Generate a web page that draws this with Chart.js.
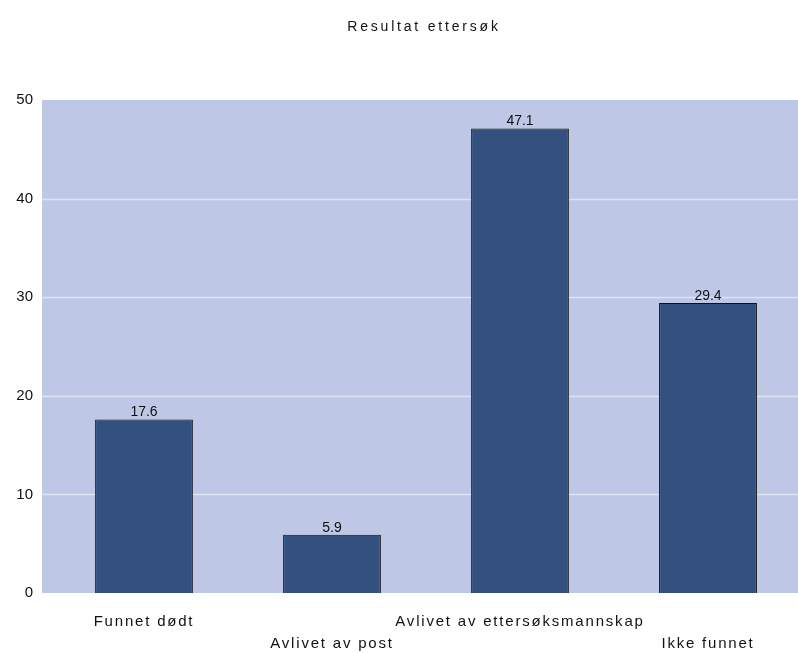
<!DOCTYPE html>
<html>
<head>
<meta charset="utf-8">
<script src="https://cdn.jsdelivr.net/npm/chart.js@4/dist/chart.umd.min.js"></script>
<style>
  html, body { margin: 0; padding: 0; background: #ffffff; overflow: hidden; }
  #wrap { width: 802px; height: 653px; }
</style>
</head>
<body>
<div id="wrap"><canvas id="c"></canvas></div>
<script>
const chartTitle = 'Resultat ettersøk';
const categories = ['Funnet dødt', 'Avlivet av post', 'Avlivet av ettersøksmannskap', 'Ikke funnet'];
const percentValues = [17.6, 5.9, 47.1, 29.4];
const yTicks = [0, 10, 20, 30, 40, 50];

const FONT = '"Liberation Sans", Arial, sans-serif';

// Alternate labels between the first and second line so long names do not collide
const staggeredLabels = categories.map((name, i) => (i % 2 === 0 ? [name, ''] : ['', name]));

// Plot background, grid lines, title and value labels
const decorPlugin = {
  id: 'decor',
  beforeDraw(chart) {
    const { ctx, chartArea, scales } = chart;
    const left = chartArea.left - 8;
    ctx.save();
    ctx.fillStyle = '#bec8e6';
    ctx.fillRect(left, chartArea.top, chart.width - left, chartArea.bottom - chartArea.top);
    ctx.strokeStyle = '#dde2f2';
    ctx.lineWidth = 1.5;
    yTicks.forEach(v => {
      if (v === 0 || v === 50) return;
      const y = Math.round(scales.y.getPixelForValue(v)) + 0.5;
      ctx.beginPath();
      ctx.moveTo(left, y);
      ctx.lineTo(chart.width, y);
      ctx.stroke();
    });
    ctx.fillStyle = '#111111';
    ctx.font = '14px ' + FONT;
    ctx.letterSpacing = '2.8px';
    ctx.textAlign = 'center';
    ctx.textBaseline = 'middle';
    ctx.fillText(chartTitle, (left + chart.width) / 2 + 2, 27);
    ctx.restore();
    // spaced lettering for the category labels
    ctx.letterSpacing = '1.8px';
  },
  beforeDatasetsDraw(chart) {
    chart.ctx.letterSpacing = '0px';
  },
  afterDatasetsDraw(chart) {
    const { ctx } = chart;
    const meta = chart.getDatasetMeta(0);
    ctx.save();
    ctx.fillStyle = '#111111';
    ctx.font = '14px ' + FONT;
    ctx.textAlign = 'center';
    ctx.textBaseline = 'bottom';
    meta.data.forEach((bar, i) => {
      ctx.fillText(percentValues[i].toFixed(1), bar.x, bar.y);
    });
    ctx.restore();
  }
};

new Chart(document.getElementById('c'), {
  type: 'bar',
  data: {
    labels: staggeredLabels,
    datasets: [{
      data: percentValues,
      backgroundColor: '#33507f',
      borderColor: '#111111',
      borderWidth: 1,
      barPercentage: 0.52,
      categoryPercentage: 1.0
    }]
  },
  options: {
    responsive: true,
    maintainAspectRatio: false,
    animation: false,
    devicePixelRatio: 1,
    layout: { padding: { top: 100, left: 0, right: 0, bottom: 0 } },
    plugins: {
      legend: { display: false },
      title: { display: false },
      tooltip: { enabled: false }
    },
    scales: {
      x: {
        grid: { display: false },
        border: { display: false },
        ticks: {
          autoSkip: false,
          maxRotation: 0,
          minRotation: 0,
          padding: 10,
          color: '#111111',
          font: { family: FONT, size: 15, lineHeight: 1.47 }
        },
        afterFit(scale) { scale.height = 60; }
      },
      y: {
        min: 0,
        max: 50,
        grid: { display: false },
        border: { display: false },
        afterBuildTicks(scale) { scale.ticks = yTicks.map(v => ({ value: v })); },
        ticks: {
          z: 1,
          padding: 9,
          color: '#111111',
          font: { family: FONT, size: 15 }
        },
        afterFit(scale) { scale.width = 50; }
      }
    }
  },
  plugins: [decorPlugin]
});
</script>
</body>
</html>
